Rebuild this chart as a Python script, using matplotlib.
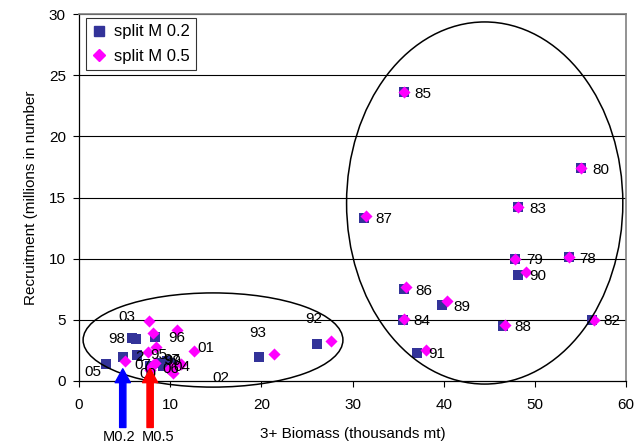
import matplotlib
matplotlib.use("Agg")
import matplotlib.pyplot as plt
from matplotlib.patches import Ellipse
from matplotlib.lines import Line2D

plt.rcParams['font.family'] = ['Liberation Sans', 'DejaVu Sans']

# ---------------- data ----------------
years = ["78", "79", "80", "82", "83", "84", "85", "86", "87", "88", "89", "90", "91",
         "92", "93", "94", "95", "96", "97", "98", "99", "00", "01", "02", "03", "04",
         "05", "06", "07"]

# split M 0.2 (squares)
biomass_m02 = [53.7, 47.8, 55.1, 56.3, 48.2, 35.5, 35.6, 35.7, 31.3, 46.5, 39.8, 48.2, 37.1,
               26.1, 19.7, 8.9, 6.4, 8.3, 9.6, 5.85, 10.15, 7.8, 10.3, 9.2, 6.3, 10.0,
               3.0, 9.9, 4.85]
recruit_m02 = [10.1, 10.0, 17.4, 5.0, 14.2, 5.0, 23.6, 7.5, 13.35, 4.5, 6.2, 8.7, 2.3,
               3.0, 1.95, 1.45, 2.1, 3.6, 1.6, 3.5, 1.0, 1.25, 1.3, 1.2, 3.4, 1.5,
               1.35, 1.2, 2.0]

# split M 0.5 (diamonds)
biomass_m05 = [53.7, 47.8, 55.1, 56.5, 48.2, 35.7, 35.6, 35.9, 31.5, 46.7, 40.4, 49.0, 38.1,
               27.6, 21.4, 8.3, 7.6, 10.7, 8.4, 8.15, 9.9, 7.8, 12.6, 10.3, 7.7, 11.2,
               5.0, 10.2, 8.0]
recruit_m05 = [10.1, 10.0, 17.4, 5.0, 14.2, 5.05, 23.6, 7.7, 13.5, 4.6, 6.5, 8.9, 2.5,
               3.3, 2.2, 1.45, 2.4, 4.15, 2.75, 3.95, 0.95, 0.9, 2.45, 0.65, 4.9, 1.4,
               1.65, 1.1, 1.2]

series_names = ["split M 0.2", "split M 0.5"]

# labels of the big-biomass years (placed right of the M 0.2 point)
right_label_years = ["78", "79", "80", "82", "83", "84", "85", "86", "87", "88", "89", "90", "91"]

# labels of the small-biomass years (hand placed text, data coordinates)
left_labels = ["03", "98", "96", "95", "01", "93", "92", "02", "05", "07", "00", "97", "99", "06", "04", "2"]
left_label_x = [4.3, 3.2, 9.8, 7.8, 13.0, 18.7, 24.8, 14.6, 0.6, 6.1, 6.6, 9.2, 9.35, 9.1, 10.3, 6.2]
left_label_y = [5.2, 3.4, 3.5, 2.1, 2.7, 3.9, 5.1, 0.25, 0.75, 1.3, 0.6, 1.7, 1.6, 1.0, 1.15, 1.95]

# M arrows
arrow_names = ["M0.2", "M0.5"]
arrow_x = [4.8, 7.8]
arrow_colors = ["#0000FF", "#FF0000"]

# ellipses (center x, center y, width, height)
ell_cx = [14.7, 44.5]
ell_cy = [3.35, 14.55]
ell_w = [28.5, 30.3]
ell_h = [7.7, 29.6]

# ---------------- figure ----------------
fig = plt.figure(figsize=(6.39, 4.46), dpi=100)
ax = fig.add_axes([79/639, 65/446, 547/639, 367/446])

ax.set_xlim(0, 60)
ax.set_ylim(0, 30)
ax.set_xticks([0, 10, 20, 30, 40, 50, 60])
ax.set_yticks([0, 5, 10, 15, 20, 25, 30])
ax.tick_params(axis='both', direction='out', length=4, width=0.8, labelsize=11, colors='black')
ax.tick_params(axis='x', pad=8)
ax.tick_params(axis='y', pad=5.5)

for yv in [5, 10, 15, 20, 25, 30]:
    ax.axhline(yv, color='black', lw=0.8, zorder=1)

for s in ['left', 'bottom']:
    ax.spines[s].set_color('black')
    ax.spines[s].set_linewidth(0.9)
for s in ['right', 'top']:
    ax.spines[s].set_color('#808080')
    ax.spines[s].set_linewidth(1.2)

ax.scatter(biomass_m02, recruit_m02, marker='s', s=46, color='#333399', zorder=3,
           linewidths=0, label=series_names[0])
ax.scatter(biomass_m05, recruit_m05, marker='D', s=38, color='#FF00FF', zorder=4,
           linewidths=0, label=series_names[1])

for yr in right_label_years:
    i = years.index(yr)
    ax.annotate(yr, (biomass_m02[i], recruit_m02[i]), xytext=(8, -1), textcoords='offset points',
                ha='left', va='center', fontsize=11, zorder=6)

for t, lx, ly in zip(left_labels, left_label_x, left_label_y):
    ax.text(lx, ly, t, ha='left', va='center', fontsize=11, zorder=5)

for cx, cy, w, h in zip(ell_cx, ell_cy, ell_w, ell_h):
    e = Ellipse((cx, cy), w, h, fill=False, edgecolor='black', lw=1.1, zorder=5, clip_on=False)
    ax.add_patch(e)

for name, xv, col in zip(arrow_names, arrow_x, arrow_colors):
    ax.annotate('', xy=(xv, 1.0), xytext=(xv, -3.8),
                arrowprops=dict(arrowstyle='simple,head_width=1.1,head_length=1.0,tail_width=0.45',
                                color=col, mutation_scale=10, shrinkA=0, shrinkB=0),
                annotation_clip=False, zorder=7)
ax.text(4.4, -4.6, arrow_names[0], ha='center', va='center', fontsize=10.5, zorder=7, clip_on=False)
ax.text(8.7, -4.6, arrow_names[1], ha='center', va='center', fontsize=10.5, zorder=7, clip_on=False)

ax.set_xlabel("3+ Biomass (thousands mt)", fontsize=11, labelpad=11)
ax.set_ylabel("Recruitment (millions in number", fontsize=11, labelpad=8)

handles = [Line2D([], [], marker='s', ls='none', color='#333399', markersize=6.5),
           Line2D([], [], marker='D', ls='none', color='#FF00FF', markersize=6)]
leg = ax.legend(handles, series_names, loc='upper left', bbox_to_anchor=(0.012, 0.99),
                fontsize=12, frameon=True, fancybox=False, edgecolor='black',
                handlelength=0.8, handletextpad=0.5, borderpad=0.4, labelspacing=0.55,
                borderaxespad=0)
leg.get_frame().set_linewidth(0.8)
leg.set_zorder(8)

fig.savefig("out.png", dpi=100)
